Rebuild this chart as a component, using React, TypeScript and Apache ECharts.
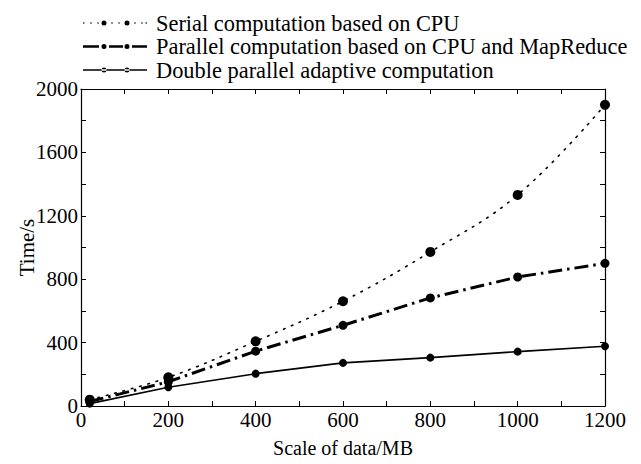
import React, { useEffect, useRef } from "react";
import * as echarts from "echarts";

const xValues = [20, 200, 400, 600, 800, 1000, 1200];
const serialTimes = [40, 181, 408, 661, 972, 1332, 1900];
const parallelTimes = [28, 153, 346, 509, 682, 814, 900];
const doubleTimes = [15, 118, 204, 272, 305, 343, 377];
const seriesNames = [
  "Serial computation based on CPU",
  "Parallel computation based on CPU and MapReduce",
  "Double parallel adaptive computation",
];

const FONT = "Liberation Serif";

// legend icon shapes (64 x 5 box)
const circ = (cx: number, cy: number, r: number) =>
  `M${cx - r} ${cy}A${r} ${r} 0 1 0 ${cx + r} ${cy}A${r} ${r} 0 1 0 ${cx - r} ${cy}Z`;
const rect = (x0: number, x1: number, h: number) =>
  `M${x0} ${2.5 - h / 2}L${x1} ${2.5 - h / 2}L${x1} ${2.5 + h / 2}L${x0} ${2.5 + h / 2}Z`;
const markerXs = [21, 44];
const dottedIcon =
  "path://" +
  [0.8, 8, 15, 29, 36, 52, 59, 63.2].map((x) => circ(x, 2.5, 0.8)).join("") +
  markerXs.map((x) => circ(x, 2.5, 2.5)).join("");
const dashDotIcon =
  "path://" +
  [rect(0, 16, 2.6), rect(26, 40, 2.6), rect(49, 64, 2.6)].join("") +
  markerXs.map((x) => circ(x, 2.5, 2.5)).join("");
const solidIcon =
  "path://" + rect(0, 64, 1.6) + markerXs.map((x) => circ(x, 2.5, 2.5)).join("");

export default function App() {
  const ref = useRef<HTMLDivElement>(null);
  useEffect(() => {
    if (!ref.current) return;
    const chart = echarts.init(ref.current, null, { renderer: "svg" });
    const pair = (ys: number[]) => xValues.map((x, i) => [x, ys[i]]);
    const axisCommon = {
      type: "value" as const,
      axisLine: { show: true, onZero: false, lineStyle: { color: "#000", width: 1.2 } },
      axisTick: { show: true, inside: true, length: 5, lineStyle: { color: "#000" } },
      minorTick: { show: true, splitNumber: 2, length: 5, lineStyle: { color: "#000" } },
      splitLine: { show: false },
    };
    const labelStyle = {
      fontFamily: FONT,
      fontSize: 21,
      color: "#000",
      margin: 3,
      formatter: (v: number) => String(v),
    };
    chart.setOption({
      animation: false,
      backgroundColor: "#fff",
      textStyle: { fontFamily: FONT, color: "#000" },
      legend: {
        orient: "vertical",
        left: 78,
        top: 7,
        itemWidth: 64,
        itemHeight: 5,
        itemGap: 1.5,
        textStyle: {
          fontFamily: FONT,
          fontSize: 22.4,
          lineHeight: 21,
          color: "#000",
          padding: [0, 0, 0, 4],
        },
        data: [
          { name: seriesNames[0], icon: dottedIcon },
          { name: seriesNames[1], icon: dashDotIcon },
          { name: seriesNames[2], icon: solidIcon },
        ],
      },
      grid: { left: 81, right: 36, top: 89, bottom: 58 },
      xAxis: [
        {
          ...axisCommon,
          position: "bottom",
          min: 0,
          max: 1200,
          interval: 200,
          name: "Scale of data/MB",
          nameLocation: "middle",
          nameGap: 32,
          nameMoveOverlap: false,
          nameTextStyle: { fontFamily: FONT, fontSize: 20, color: "#000" },
          axisLabel: labelStyle,
        },
        {
          ...axisCommon,
          position: "top",
          min: 0,
          max: 1200,
          interval: 200,
          axisLabel: { show: false },
        },
      ],
      yAxis: [
        {
          ...axisCommon,
          position: "left",
          min: 0,
          max: 2000,
          interval: 400,
          name: "Time/s",
          nameLocation: "middle",
          nameGap: 44,
          nameMoveOverlap: false,
          nameTextStyle: { fontFamily: FONT, fontSize: 21, color: "#000" },
          axisLabel: labelStyle,
        },
        {
          ...axisCommon,
          position: "right",
          min: 0,
          max: 2000,
          interval: 400,
          axisLabel: { show: false },
        },
      ],
      series: [
        {
          name: seriesNames[0],
          type: "line",
          smooth: 0.4,
          data: pair(serialTimes),
          symbol: "circle",
          symbolSize: 10,
          itemStyle: { color: "#000" },
          lineStyle: { color: "#000", width: 1.6, type: [1.6, 7], cap: "round" },
        },
        {
          name: seriesNames[1],
          type: "line",
          data: pair(parallelTimes),
          symbol: "circle",
          symbolSize: 9,
          itemStyle: { color: "#000" },
          lineStyle: { color: "#000", width: 3, type: [14, 5, 2.5, 5] },
        },
        {
          name: seriesNames[2],
          type: "line",
          data: pair(doubleTimes),
          symbol: "circle",
          symbolSize: 8,
          itemStyle: { color: "#000" },
          lineStyle: { color: "#000", width: 1.6 },
        },
      ],
    });
    return () => chart.dispose();
  }, []);
  return <div ref={ref} style={{ width: 641, height: 464, position: "absolute", left: 0, top: 0 }} />;
}
